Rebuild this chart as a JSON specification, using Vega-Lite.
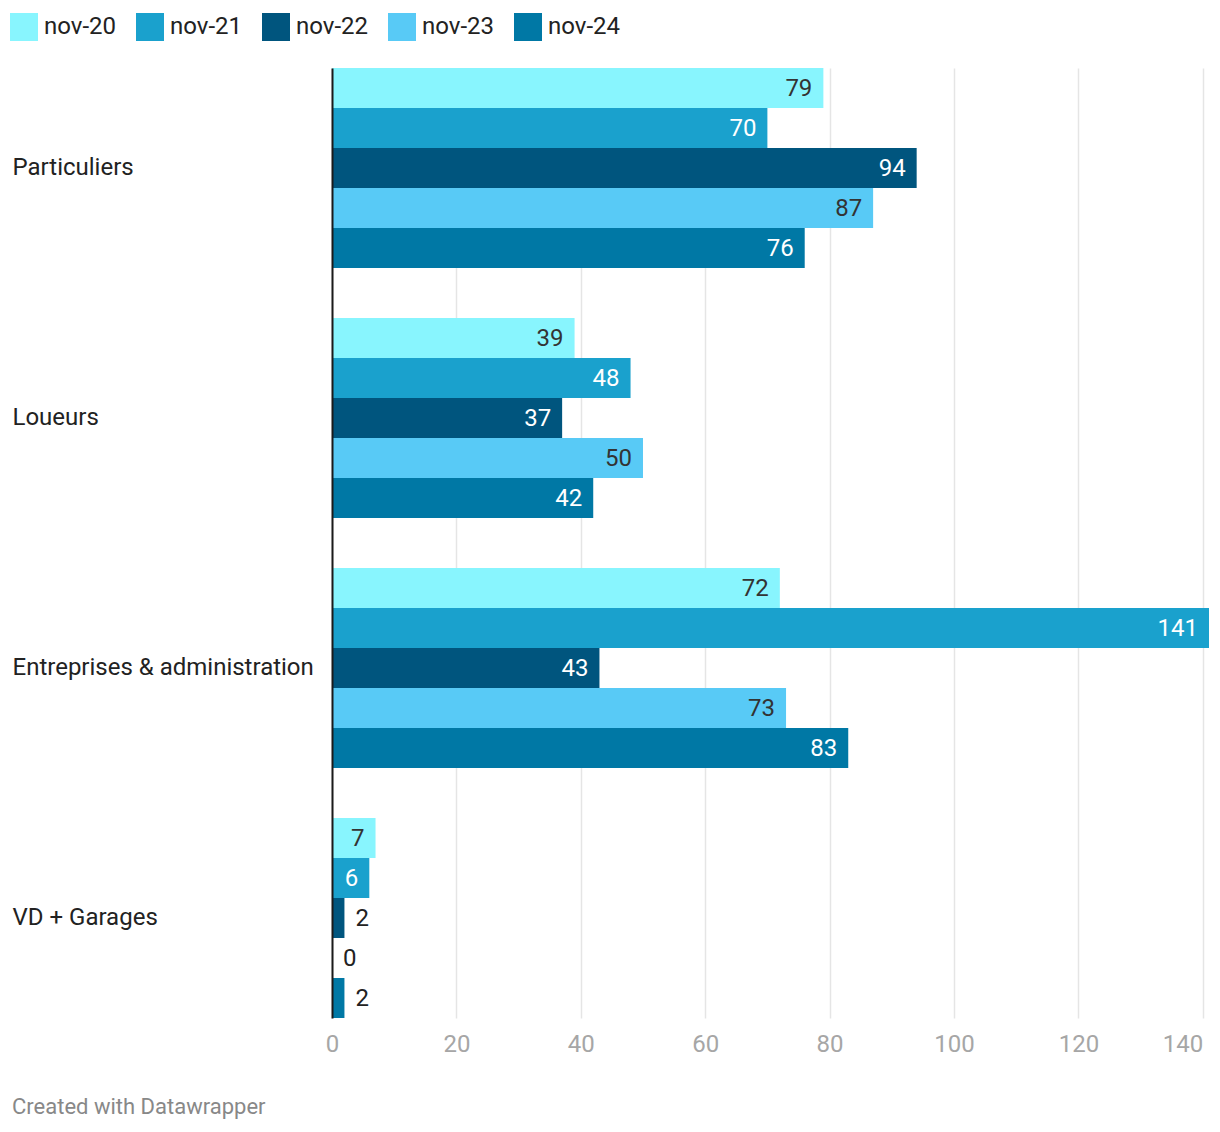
{
  "$schema": "https://vega.github.io/schema/vega-lite/v6.json",
  "autosize": "none",
  "width": 877,
  "height": 950,
  "padding": {"left": 332, "top": 68, "right": 11, "bottom": 114},
  "background": "white",
  "config": {
    "view": {"stroke": null},
    "font": "Roboto",
    "text": {"font": "Roboto"}
  },
  "title": {
    "text": "Created with Datawrapper",
    "orient": "bottom",
    "anchor": "start",
    "frame": "group",
    "dx": -320,
    "offset": 41,
    "font": "Roboto",
    "fontSize": 22,
    "fontWeight": "normal",
    "color": "#888888"
  },
  "data": {
    "values": [
      {"category": "Particuliers", "series": "nov-20", "value": 79},
      {"category": "Particuliers", "series": "nov-21", "value": 70},
      {"category": "Particuliers", "series": "nov-22", "value": 94},
      {"category": "Particuliers", "series": "nov-23", "value": 87},
      {"category": "Particuliers", "series": "nov-24", "value": 76},
      {"category": "Loueurs", "series": "nov-20", "value": 39},
      {"category": "Loueurs", "series": "nov-21", "value": 48},
      {"category": "Loueurs", "series": "nov-22", "value": 37},
      {"category": "Loueurs", "series": "nov-23", "value": 50},
      {"category": "Loueurs", "series": "nov-24", "value": 42},
      {"category": "Entreprises & administration", "series": "nov-20", "value": 72},
      {"category": "Entreprises & administration", "series": "nov-21", "value": 141},
      {"category": "Entreprises & administration", "series": "nov-22", "value": 43},
      {"category": "Entreprises & administration", "series": "nov-23", "value": 73},
      {"category": "Entreprises & administration", "series": "nov-24", "value": 83},
      {"category": "VD + Garages", "series": "nov-20", "value": 7},
      {"category": "VD + Garages", "series": "nov-21", "value": 6},
      {"category": "VD + Garages", "series": "nov-22", "value": 2},
      {"category": "VD + Garages", "series": "nov-23", "value": 0},
      {"category": "VD + Garages", "series": "nov-24", "value": 2}
    ]
  },
  "encoding": {
    "y": {
      "field": "category",
      "type": "nominal",
      "sort": null,
      "title": null,
      "scale": {"paddingInner": 0.2, "paddingOuter": 0},
      "axis": {
        "ticks": false,
        "domain": true,
        "domainColor": "#1a1a1a",
        "domainWidth": 2,
        "zindex": 1,
        "labelAlign": "left",
        "labelPadding": 320,
        "labelFont": "Roboto",
        "labelFontSize": 24,
        "labelColor": "#222222",
        "labelLimit": 400,
        "grid": false
      }
    },
    "yOffset": {
      "field": "series",
      "type": "nominal",
      "sort": ["nov-20", "nov-21", "nov-22", "nov-23", "nov-24"],
      "scale": {"paddingInner": 0, "paddingOuter": 0}
    },
    "x": {
      "field": "value",
      "type": "quantitative",
      "title": null,
      "scale": {"domain": [0, 141], "nice": false, "zero": true},
      "axis": {
        "values": [0, 20, 40, 60, 80, 100, 120, 140],
        "domain": false,
        "ticks": false,
        "grid": true,
        "gridColor": "#e5e5e5",
        "gridWidth": 1.5,
        "labelFont": "Roboto",
        "labelFontSize": 24,
        "labelColor": "#a6a6a6",
        "labelPadding": 14,
        "labelAlign": {"condition": {"test": "datum.value >= 140", "value": "right"}, "value": "center"}
      }
    }
  },
  "layer": [
    {
      "mark": {"type": "bar", "cornerRadius": 0},
      "encoding": {
        "color": {
          "field": "series",
          "type": "nominal",
          "scale": {
            "domain": ["nov-20", "nov-21", "nov-22", "nov-23", "nov-24"],
            "range": ["#88f5fe", "#1aa1cd", "#00557e", "#58caf6", "#0078a5"]
          },
          "legend": {
            "title": null,
            "orient": "none",
            "direction": "horizontal",
            "legendX": -322,
            "legendY": -55,
            "padding": 0,
            "symbolType": "square",
            "symbolSize": 784,
            "symbolStrokeWidth": 0,
            "symbolOpacity": 1,
            "labelFont": "Roboto",
            "labelFontSize": 24,
            "labelColor": "#222222",
            "labelOffset": 6,
            "columnPadding": 20
          }
        }
      }
    },
    {
      "transform": [{"filter": "datum.value >= 5"}],
      "mark": {"type": "text", "align": "right", "baseline": "middle", "dx": -11, "dy": 1, "font": "Roboto", "fontSize": 24},
      "encoding": {
        "text": {"field": "value", "type": "quantitative"},
        "color": {
          "condition": {"test": "datum.series === 'nov-20' || datum.series === 'nov-23'", "value": "#333333"},
          "value": "#ffffff"
        }
      }
    },
    {
      "transform": [{"filter": "datum.value < 5"}],
      "mark": {"type": "text", "align": "left", "baseline": "middle", "dx": 11, "dy": 1, "font": "Roboto", "fontSize": 24, "color": "#222222"},
      "encoding": {
        "text": {"field": "value", "type": "quantitative"}
      }
    }
  ]
}
